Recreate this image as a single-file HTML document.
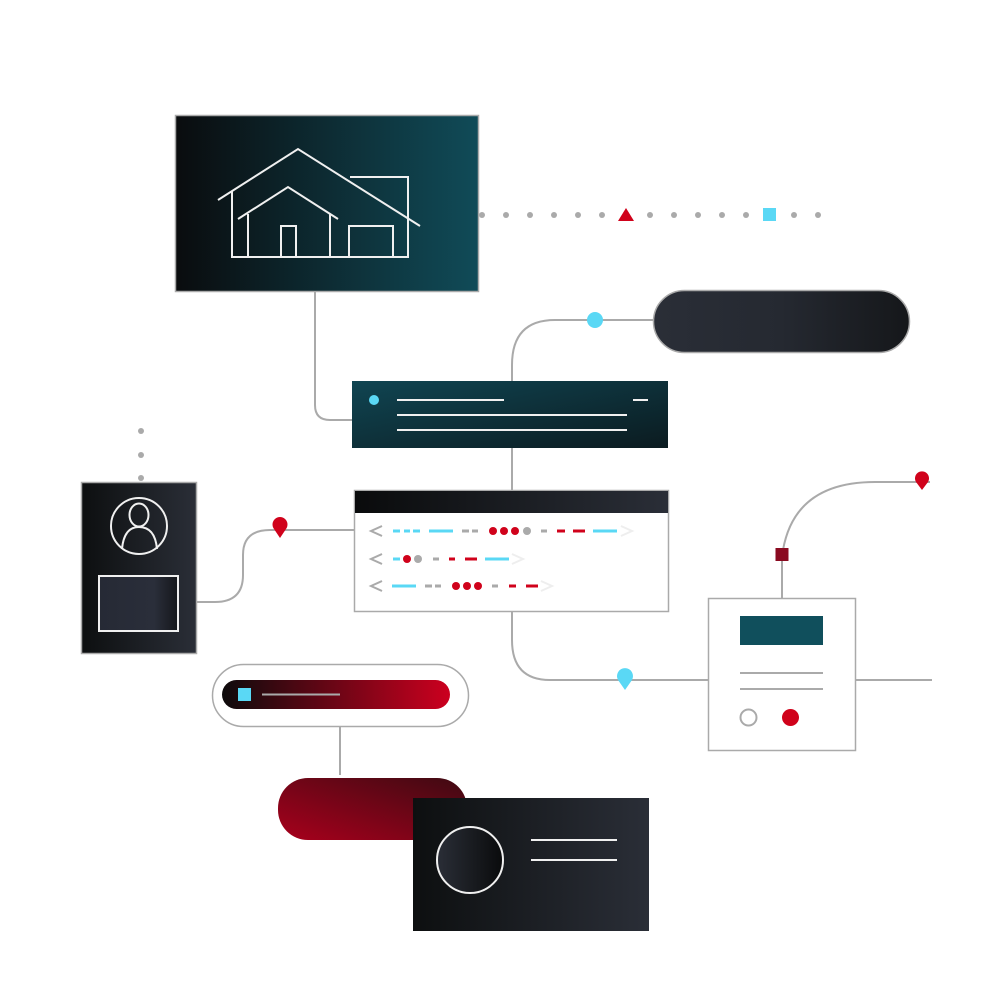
<!DOCTYPE html>
<html><head><meta charset="utf-8"><style>html,body{margin:0;padding:0;background:#fff}svg{display:block}</style></head>
<body>
<svg width="1000" height="1000" viewBox="0 0 1000 1000" xmlns="http://www.w3.org/2000/svg">
<defs>
<linearGradient id="gHouse" x1="0" y1="0" x2="1" y2="0"><stop offset="0" stop-color="#0a0c0e"/><stop offset="1" stop-color="#104b58"/></linearGradient>
<linearGradient id="gTeal" x1="0" y1="0" x2="1" y2="1"><stop offset="0" stop-color="#104552"/><stop offset="1" stop-color="#0b1b20"/></linearGradient>
<linearGradient id="gPill" x1="0" y1="0" x2="1" y2="0"><stop offset="0" stop-color="#2a2e37"/><stop offset="0.5" stop-color="#252931"/><stop offset="1" stop-color="#15171a"/></linearGradient>
<linearGradient id="gHead" x1="0" y1="0" x2="1" y2="0"><stop offset="0" stop-color="#0a0b0c"/><stop offset="1" stop-color="#2a2e37"/></linearGradient>
<linearGradient id="gCard" x1="0" y1="0" x2="1" y2="0"><stop offset="0" stop-color="#0d0f10"/><stop offset="1" stop-color="#2a2e37"/></linearGradient>
<linearGradient id="gInner" x1="0" y1="0" x2="1" y2="0"><stop offset="0" stop-color="#262a35"/><stop offset="0.7" stop-color="#2a2e3a"/><stop offset="1" stop-color="#15171b"/></linearGradient>
<linearGradient id="gRedBar" x1="0" y1="0" x2="1" y2="0"><stop offset="0" stop-color="#0d0b0c"/><stop offset="1" stop-color="#cc001f"/></linearGradient>
<linearGradient id="gRed2" x1="0" y1="1" x2="1" y2="0"><stop offset="0" stop-color="#a8001c"/><stop offset="1" stop-color="#3e0a12"/></linearGradient>
<linearGradient id="gCircle" x1="0" y1="0" x2="1" y2="0"><stop offset="0" stop-color="#2a2e37"/><stop offset="1" stop-color="#0a0b0c"/></linearGradient>
</defs>

<!-- connectors -->
<g fill="none" stroke="#aaa" stroke-width="2">
<path d="M315 291 V405 Q315 420 330 420 H352"/>
<path d="M512 381 V365 Q512 320 555 320 H653"/>
<path d="M512 448 V490"/>
<path d="M196 602 H215 Q243 602 243 575 V555 Q243 530 270 530 H354"/>
<path d="M512 612 V640 Q512 680 550 680 H708"/>
<path d="M855 680 H932"/>
<path d="M782 598 V560"/>
<path d="M783 550 Q795 482 875 482 H930"/>
<path d="M340 727 V775"/>
</g>

<!-- dotted row -->
<g fill="#aaa">
<circle cx="482" cy="215" r="3"/><circle cx="506" cy="215" r="3"/><circle cx="530" cy="215" r="3"/><circle cx="554" cy="215" r="3"/><circle cx="578" cy="215" r="3"/><circle cx="602" cy="215" r="3"/>
<circle cx="650" cy="215" r="3"/><circle cx="674" cy="215" r="3"/><circle cx="698" cy="215" r="3"/><circle cx="722" cy="215" r="3"/><circle cx="746" cy="215" r="3"/>
<circle cx="794" cy="215" r="3"/><circle cx="818" cy="215" r="3"/>
<circle cx="141" cy="431" r="3"/><circle cx="141" cy="455" r="3"/><circle cx="141" cy="478" r="3"/>
</g>
<polygon points="626,208 634,221 618,221" fill="#d0021b"/>
<rect x="763" y="208" width="13" height="13" fill="#5ad8f5"/>

<!-- house box -->
<rect x="175.5" y="115.5" width="303" height="176" fill="url(#gHouse)" stroke="#aaa" stroke-width="1.5"/>
<g fill="none" stroke="#f0f0f0" stroke-width="2">
<polyline points="218,200 298,149 420,226"/>
<polyline points="350,177 408,177 408,257 232,257 232,191"/>
<polyline points="238,219 288,187 338,219"/>
<line x1="248" y1="214" x2="248" y2="257"/>
<line x1="330" y1="214" x2="330" y2="257"/>
<polyline points="281,257 281,226 296,226 296,257"/>
<polyline points="349,257 349,226 393,226 393,257"/>
</g>

<!-- dark pill -->
<rect x="653.5" y="290.5" width="256" height="62" rx="31" fill="url(#gPill)" stroke="#aaa" stroke-width="1.5"/>
<circle cx="595" cy="320" r="8" fill="#5ad8f5"/>

<!-- teal bar -->
<rect x="352" y="381" width="316" height="67" fill="url(#gTeal)"/>
<circle cx="374" cy="400" r="5" fill="#5ad8f5"/>
<g stroke="#f0f0f0" stroke-width="2">
<line x1="397" y1="400" x2="504" y2="400"/>
<line x1="633" y1="400" x2="648" y2="400"/>
<line x1="397" y1="415" x2="627" y2="415"/>
<line x1="397" y1="430" x2="627" y2="430"/>
</g>

<!-- browser -->
<rect x="354.5" y="490.5" width="314" height="121" fill="#fff" stroke="#aaa" stroke-width="1.5"/>
<rect x="355" y="491" width="313" height="22" fill="url(#gHead)"/>
<g fill="none" stroke-width="2" stroke-linecap="butt">
<g stroke="#aaa"><polyline points="382,526 371,531 382,536"/><polyline points="382,554 371,559 382,564"/><polyline points="382,581 371,586 382,591"/></g>
<g stroke="#eee"><polyline points="621,526 632,531 621,536"/><polyline points="512,554 523,559 512,564"/><polyline points="541,581 552,586 541,591"/></g>
<g stroke-width="3">
<path d="M393 531h7M404 531h6M413 531h7M429 531h24M593 531h24M393 559h7M485 559h24M392 586h24" stroke="#5ad8f5"/>
<path d="M462 531h7M472 531h6M541 531h6M433 559h6M425 586h7M435 586h6M492 586h6" stroke="#aaa"/>
<path d="M557 531h8M573 531h12M449 559h6M465 559h12M509 586h7M526 586h12" stroke="#d0021b"/>
</g>
</g>
<g fill="#d0021b"><circle cx="493" cy="531" r="4"/><circle cx="504" cy="531" r="4"/><circle cx="515" cy="531" r="4"/><circle cx="407" cy="559" r="4"/><circle cx="456" cy="586" r="4"/><circle cx="467" cy="586" r="4"/><circle cx="478" cy="586" r="4"/></g>
<g fill="#aaa"><circle cx="527" cy="531" r="4"/><circle cx="418" cy="559" r="4"/></g>

<!-- left card -->
<rect x="81.5" y="482.5" width="115" height="171" fill="url(#gCard)" stroke="#aaa" stroke-width="1.5"/>
<circle cx="139" cy="526" r="28" fill="none" stroke="#f0f0f0" stroke-width="2"/>
<ellipse cx="139" cy="515" rx="9.5" ry="11.5" fill="none" stroke="#f0f0f0" stroke-width="2"/>
<path d="M122 549 Q124 527 139 527 Q155 527 157 549" fill="none" stroke="#f0f0f0" stroke-width="2"/>
<rect x="99" y="576" width="79" height="55" fill="url(#gInner)" stroke="#f0f0f0" stroke-width="2"/>

<!-- pins -->
<path d="M280 538 L274 529 A7.5 7.5 0 1 1 286 529 Z" fill="#d0021b"/>
<path d="M625 690 L618 680 A8 8 0 1 1 632 680 Z" fill="#5ad8f5"/>
<path d="M922 490 L916 482 A7 7 0 1 1 928 482 Z" fill="#d0021b"/>
<rect x="775.5" y="548" width="13" height="13" fill="#8a0a20"/>

<!-- doc -->
<rect x="708.5" y="598.5" width="147" height="152" fill="#fff" stroke="#aaa" stroke-width="1.5"/>
<rect x="740" y="616" width="83" height="29" fill="#104f5c"/>
<line x1="740" y1="673" x2="823" y2="673" stroke="#aaa" stroke-width="2"/>
<line x1="740" y1="689" x2="823" y2="689" stroke="#aaa" stroke-width="2"/>
<circle cx="748.5" cy="717.5" r="8" fill="none" stroke="#aaa" stroke-width="2"/>
<circle cx="790.5" cy="717.5" r="8.5" fill="#d0021b"/>

<!-- red pill group -->
<rect x="212.5" y="664.5" width="256" height="62" rx="31" fill="#fff" stroke="#aaa" stroke-width="1.5"/>
<rect x="222" y="680" width="228" height="29" rx="14.5" fill="url(#gRedBar)"/>
<rect x="238" y="688" width="13" height="13" fill="#5ad8f5"/>
<line x1="262" y1="694.5" x2="340" y2="694.5" stroke="#aaa" stroke-width="2"/>

<rect x="278" y="778" width="189" height="62" rx="30" fill="url(#gRed2)"/>
<rect x="413" y="798" width="236" height="133" fill="url(#gCard)"/>
<circle cx="470" cy="860" r="33" fill="url(#gCircle)" stroke="#f0f0f0" stroke-width="2"/>
<line x1="531" y1="840" x2="617" y2="840" stroke="#f0f0f0" stroke-width="2"/>
<line x1="531" y1="860" x2="617" y2="860" stroke="#f0f0f0" stroke-width="2"/>
</svg>
</body></html>
